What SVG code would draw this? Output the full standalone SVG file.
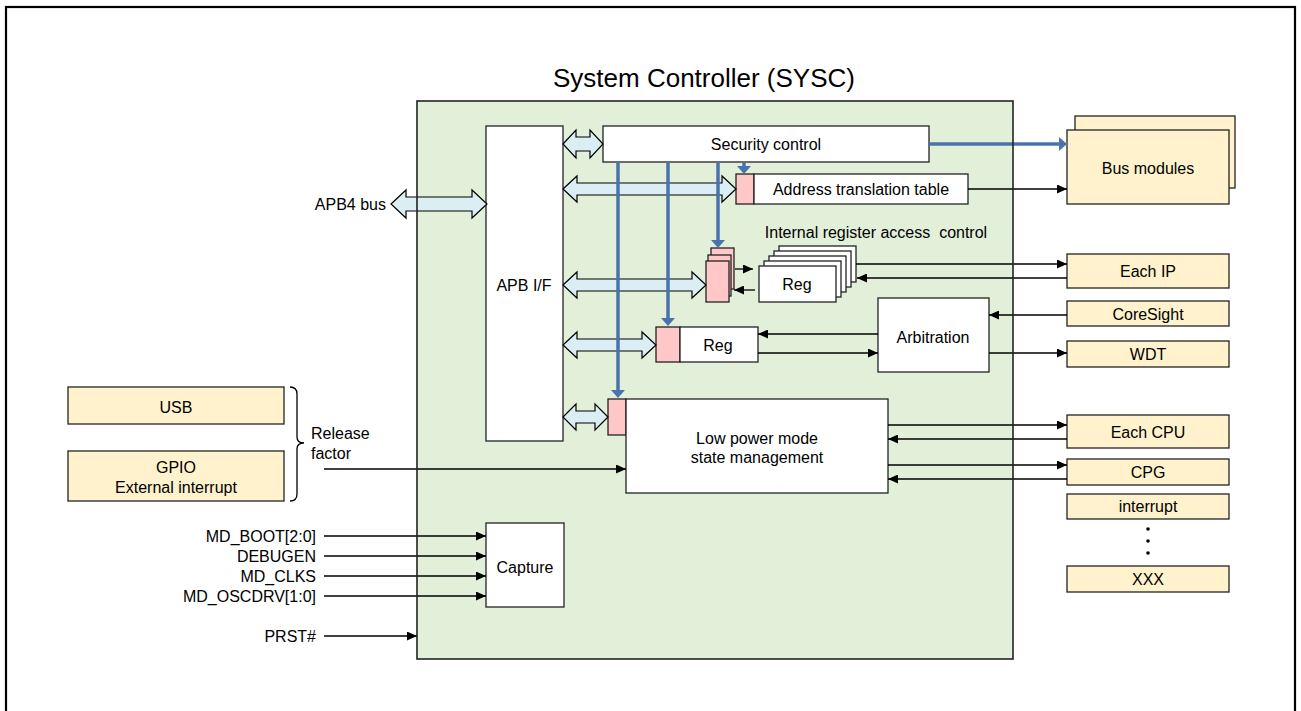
<svg xmlns="http://www.w3.org/2000/svg" width="1301" height="711" viewBox="0 0 1301 711">
<defs>
<style>
.t{font-family:"Liberation Sans",Arial,sans-serif;font-size:16px;fill:#000}
.m{text-anchor:middle}
.e{text-anchor:end}
.box{fill:#fff;stroke:#222;stroke-width:1.3}
.pink{fill:#ffc7c7;stroke:#222;stroke-width:1.3}
.yel{fill:#fff2cc;stroke:#222;stroke-width:1.3}
.dbl{fill:#dbeef4;stroke:#000;stroke-width:1.2}
.ln{stroke:#000;stroke-width:1.3;fill:none;marker-end:url(#ah)}
.pl{stroke:#000;stroke-width:1.3;fill:none}
.bl{stroke:#4a73ad;stroke-width:3.5;fill:none;marker-end:url(#bh)}
</style>
<marker id="ah" viewBox="0 0 10 9" refX="10" refY="4.5" markerWidth="10" markerHeight="9" markerUnits="userSpaceOnUse" orient="auto"><path d="M0,0 L10,4.5 L0,9 z" fill="#000"/></marker>
<marker id="bh" viewBox="0 0 8 14" refX="2" refY="7" markerWidth="8" markerHeight="14" markerUnits="userSpaceOnUse" orient="auto"><path d="M0,0 L8,7 L0,14 z" fill="#4a73ad"/></marker>
</defs>
<rect width="1301" height="711" fill="#fff"/>
<rect x="6" y="7" width="1289" height="720" fill="none" stroke="#000" stroke-width="2.2"/>

<g id="sysc">
<rect x="417" y="101" width="596" height="558" fill="#e2efd9"/>
<text class="t m" x="704" y="87" style="font-size:26px">System Controller (SYSC)</text>
</g>

<g id="apb-if"><rect class="box" x="486" y="126" width="77" height="315"/><text class="t m" x="524" y="291">APB I/F</text></g>
<g id="security"><rect class="box" x="603" y="126" width="326" height="36"/><text class="t m" x="766" y="150">Security control</text></g>
<g id="addr-table"><rect class="pink" x="736" y="174" width="18" height="30"/><rect class="box" x="754" y="174" width="214" height="30"/><text class="t m" x="861" y="195">Address translation table</text></g>
<g id="int-reg">
<text class="t m" x="876" y="238" xml:space="preserve">Internal register access  control</text>
<rect class="pink" x="711" y="248" width="23" height="41"/>
<rect class="pink" x="708" y="255" width="23" height="41"/>
<rect class="pink" x="706" y="261" width="23" height="41"/>
<rect class="box" x="779" y="246" width="77" height="36"/>
<rect class="box" x="774" y="251" width="77" height="36"/>
<rect class="box" x="769" y="256" width="77" height="36"/>
<rect class="box" x="764" y="261" width="77" height="36"/>
<rect class="box" x="759" y="266" width="77" height="36"/>
<text class="t m" x="797" y="290">Reg</text>
</g>
<g id="reg"><rect class="pink" x="656" y="327" width="24" height="35"/><rect class="box" x="680" y="327" width="78" height="35"/><text class="t m" x="718" y="351">Reg</text></g>
<g id="arbitration"><rect class="box" x="878" y="298" width="111" height="74"/><text class="t m" x="933" y="343">Arbitration</text></g>
<g id="lowpower"><rect class="pink" x="608" y="399" width="18" height="36"/><rect class="box" x="626" y="399" width="262" height="94"/><text class="t m" x="757" y="444">Low power mode</text><text class="t m" x="757" y="463">state management</text></g>
<g id="capture"><rect class="box" x="486" y="523" width="78" height="84"/><text class="t m" x="525" y="573">Capture</text></g>

<g id="bus-modules"><rect class="yel" x="1075" y="116" width="160" height="72"/><rect class="yel" x="1067" y="130" width="162" height="74"/><text class="t m" x="1148" y="174">Bus modules</text></g>
<g id="each-ip"><rect class="yel" x="1067" y="254" width="162" height="34"/><text class="t m" x="1148" y="277">Each IP</text></g>
<g id="coresight"><rect class="yel" x="1067" y="301" width="162" height="25"/><text class="t m" x="1148" y="320">CoreSight</text></g>
<g id="wdt"><rect class="yel" x="1067" y="341" width="162" height="26"/><text class="t m" x="1148" y="360">WDT</text></g>
<g id="each-cpu"><rect class="yel" x="1067" y="415" width="162" height="33"/><text class="t m" x="1148" y="438">Each CPU</text></g>
<g id="cpg"><rect class="yel" x="1067" y="459" width="162" height="26"/><text class="t m" x="1148" y="478">CPG</text></g>
<g id="interrupt"><rect class="yel" x="1067" y="494" width="162" height="25"/><text class="t m" x="1148" y="512">interrupt</text></g>
<g id="dots"><circle cx="1148" cy="529" r="1.8"/><circle cx="1148" cy="541" r="1.8"/><circle cx="1148" cy="553" r="1.8"/></g>
<g id="xxx"><rect class="yel" x="1067" y="566" width="162" height="26"/><text class="t m" x="1148" y="585">XXX</text></g>

<g id="usb"><rect class="yel" x="68" y="387" width="216" height="37"/><text class="t m" x="176" y="413">USB</text></g>
<g id="gpio"><rect class="yel" x="68" y="451" width="216" height="50"/><text class="t m" x="176" y="473">GPIO</text><text class="t m" x="176" y="493">External interrupt</text></g>
<g id="release-factor">
<path class="pl" d="M290,387 Q297,387 297,394 L297,437 Q297,443 304,443 Q297,443 297,449 L297,494 Q297,501 290,501"/>
<text class="t" x="311" y="439">Release</text><text class="t" x="311" y="459">factor</text>
</g>
<g id="inputs">
<text class="t e" x="316" y="542">MD_BOOT[2:0]</text>
<text class="t e" x="316" y="562">DEBUGEN</text>
<text class="t e" x="316" y="582">MD_CLKS</text>
<text class="t e" x="316" y="602">MD_OSCDRV[1:0]</text>
<text class="t e" x="316" y="642">PRST#</text>
<text class="t e" x="386" y="210">APB4 bus</text>
</g>

<g id="connectors">
<path class="dbl" d="M391,204 L406,190 L406,197 L472,197 L472,190 L487,204 L472,218 L472,211 L406,211 L406,218 Z"/>
<path class="dbl" d="M563,144 L576,130 L576,137 L590,137 L590,130 L603,144 L590,158 L590,151 L576,151 L576,158 Z"/>
<path class="dbl" d="M563,189 L577,176 L577,183 L722,183 L722,176 L736,189 L722,202 L722,195 L577,195 L577,202 Z"/>
<path class="dbl" d="M563,285 L577,272 L577,279 L692,279 L692,272 L706,285 L692,298 L692,291 L577,291 L577,298 Z"/>
<path class="dbl" d="M563,345 L577,332 L577,339 L642,339 L642,332 L656,345 L642,358 L642,351 L577,351 L577,358 Z"/>
<path class="dbl" d="M563,417 L576,404 L576,411 L595,411 L595,404 L608,417 L595,430 L595,423 L576,423 L576,430 Z"/>

<line class="bl" x1="618" y1="162" x2="618" y2="392"/>
<line class="bl" x1="668" y1="162" x2="668" y2="320"/>
<line class="bl" x1="718" y1="162" x2="718" y2="242"/>
<line class="bl" x1="744" y1="162" x2="744" y2="168"/>
<line class="bl" x1="929" y1="144" x2="1061" y2="144"/>

<line class="ln" x1="968" y1="189" x2="1067" y2="189"/>
<line class="ln" x1="735" y1="269" x2="753" y2="269"/>
<line class="ln" x1="755" y1="290" x2="734" y2="290"/>
<line class="ln" x1="856" y1="264" x2="1067" y2="264"/>
<line class="ln" x1="1067" y1="278" x2="857" y2="278"/>
<line class="ln" x1="878" y1="334" x2="758" y2="334"/>
<line class="ln" x1="758" y1="353" x2="878" y2="353"/>
<line class="ln" x1="1067" y1="315" x2="989" y2="315"/>
<line class="ln" x1="989" y1="353" x2="1067" y2="353"/>
<line class="ln" x1="888" y1="425" x2="1067" y2="425"/>
<line class="ln" x1="1067" y1="439" x2="888" y2="439"/>
<line class="ln" x1="888" y1="465" x2="1067" y2="465"/>
<line class="ln" x1="1067" y1="479" x2="888" y2="479"/>
<line class="ln" x1="324" y1="469" x2="626" y2="469"/>
<line class="ln" x1="324" y1="536" x2="486" y2="536"/>
<line class="ln" x1="324" y1="556" x2="486" y2="556"/>
<line class="ln" x1="324" y1="576" x2="486" y2="576"/>
<line class="ln" x1="324" y1="596" x2="486" y2="596"/>
<line class="ln" x1="324" y1="636" x2="417" y2="636"/>
</g>

<rect id="sysc-border" x="417" y="101" width="596" height="558" fill="none" stroke="#222" stroke-width="1.6"/>
</svg>
